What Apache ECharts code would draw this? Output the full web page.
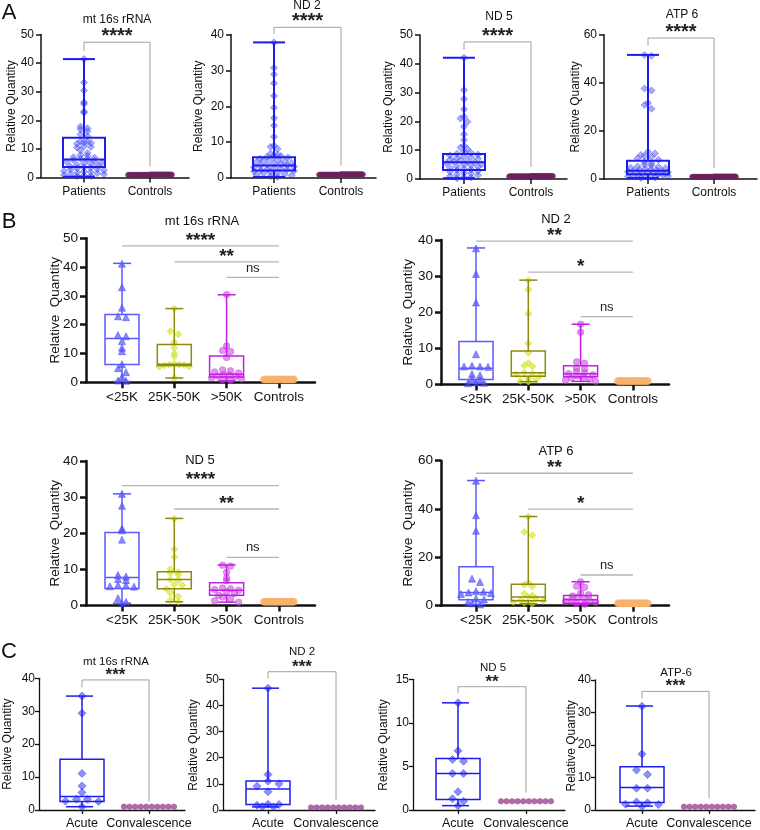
<!DOCTYPE html>
<html lang="en">
<head>
<meta charset="UTF-8">
<title>Relative quantity of mtDNA transcripts</title>
<style>
  html, body { margin: 0; padding: 0; background: #fff; }
  #main { width: 760px; height: 830px; }
</style>
</head>
<body>
<div id="main"></div>
<script src="https://cdn.jsdelivr.net/npm/echarts@6/dist/echarts.min.js"></script>
<script>
// ---------- data ----------
// A: patients vs controls
var catsA = ['Patients', 'Controls'];
var a16sPatients = [41.4, 33.2, 30.4, 26.3, 25.7, 23.1, 22.6, 17.8, 17.2, 16.9, 16.2, 15.1, 14.4, 12.6, 12.5, 12.3, 12.1, 11.8, 10.9, 10.7, 10.5, 9.5, 8.6, 7.9, 7.6, 7.1, 6.9, 6.6, 6.4, 6.1, 5.8, 5.5, 5.2, 5.0, 4.7, 4.4, 4.1, 3.9, 3.6, 3.4, 3.2, 3.0, 2.8, 2.5, 2.3, 2.1, 1.9, 1.7, 1.5, 1.3, 1.1, 0.9, 0.7, 0.5, 0.4];
var aNd2Patients = [37.8, 30.7, 28.9, 26.4, 22.9, 19.6, 16.7, 14.6, 11.5, 9.0, 8.7, 8.1, 6.8, 6.5, 6.3, 6.1, 5.9, 5.7, 5.4, 5.2, 5.0, 4.8, 4.6, 4.4, 4.2, 4.0, 3.9, 3.7, 3.5, 3.4, 3.2, 3.0, 2.9, 2.7, 2.5, 2.4, 2.2, 2.0, 1.9, 1.7, 1.5, 1.3, 1.1, 0.9, 0.7, 0.5, 0.3];
var aNd5Patients = [42.1, 30.9, 27.8, 24.2, 21.6, 21.0, 19.9, 18.2, 15.5, 13.5, 11.6, 10.9, 10.4, 9.4, 9.1, 8.8, 8.5, 8.2, 7.9, 7.6, 7.3, 7.0, 6.8, 6.5, 6.2, 6.0, 5.8, 5.5, 5.2, 5.0, 4.7, 4.4, 4.2, 3.9, 3.6, 3.3, 3.1, 2.8, 2.5, 2.2, 1.9, 1.6, 1.3, 1.0, 0.7, 0.5, 0.3];
var aAtp6Patients = [51.6, 51.2, 37.6, 36.8, 31.6, 30.8, 29.2, 11.3, 10.6, 10.0, 9.6, 9.2, 8.6, 8.0, 7.2, 6.5, 6.0, 5.6, 5.2, 5.0, 4.7, 4.5, 4.3, 4.0, 3.8, 3.6, 3.4, 3.2, 3.0, 2.8, 2.6, 2.4, 2.2, 2.0, 1.8, 1.6, 1.4, 1.2, 1.0, 0.8, 0.6, 0.4];
var aControls = [1.0, 1.1, 0.9, 1.0, 1.0, 1.1, 0.9, 1.0, 1.0, 1.1, 0.9, 1.0, 1.0, 1.1, 0.9, 1.0, 1.0, 1.1, 0.9, 1.0, 1.0, 1.1, 0.9, 1.0, 1.0, 1.1, 0.9, 1.0, 1.0, 1.1, 0.9, 1.0, 1.0, 1.1, 0.9, 1.0, 1.0, 1.1, 0.9, 1.0];
// box stats: [min, Q1, median, Q3, max]
var a16sBox = [0.3, 3.7, 6.3, 13.9, 41.4];
var aNd2Box = [0.3, 2.1, 3.5, 5.8, 37.8];
var aNd5Box = [0.3, 3.1, 5.8, 8.7, 42.1];
var aAtp6Box = [0.4, 2.0, 3.4, 7.6, 51.6];

// B: by platelet count
var catsB = ['<25K', '25K-50K', '>50K', 'Controls'];
var b16sLow = [41.2, 33.0, 25.9, 22.9, 22.6, 16.4, 16.0, 14.3, 12.0, 10.8, 6.3, 4.9, 3.5, 1.9, 0.6, 0.5];
var b16sMid = [25.6, 17.7, 16.7, 13.9, 12.0, 10.0, 9.0, 6.4, 6.2, 6.1, 6.0, 5.8, 5.5, 5.4, 1.5];
var b16sHigh = [30.5, 12.6, 11.0, 10.7, 8.6, 4.3, 4.0, 3.6, 3.2, 2.8, 2.5, 2.2, 2.0, 1.5, 1.2, 1.0, 0.8];
var bNd2Low = [37.7, 30.6, 22.7, 8.4, 5.2, 5.0, 5.0, 4.9, 2.9, 2.6, 1.6, 1.2, 0.6, 0.5, 0.4];
var bNd2Mid = [28.9, 26.3, 19.6, 11.4, 8.8, 6.0, 5.3, 5.1, 3.3, 3.0, 2.8, 2.5, 1.7, 1.5, 1.0, 0.8];
var bNd2High = [16.7, 14.5, 6.3, 5.9, 4.6, 4.4, 3.6, 3.3, 3.0, 2.7, 2.4, 2.1, 1.8, 1.5, 1.2, 0.9];
var bNd5Low = [30.9, 27.6, 21.3, 20.8, 18.2, 8.4, 8.0, 7.3, 7.0, 5.6, 5.5, 5.3, 5.2, 2.0, 1.0, 0.6];
var bNd5Mid = [24.0, 15.5, 13.4, 10.0, 9.2, 9.0, 8.5, 7.2, 7.0, 5.8, 5.6, 4.6, 3.5, 2.5, 1.5, 1.0];
var bNd5High = [11.1, 10.9, 9.2, 7.6, 6.8, 4.8, 4.6, 4.4, 4.2, 3.8, 3.3, 2.8, 2.3, 1.8, 1.3, 0.9];
var bAtp6Low = [51.7, 37.4, 31.0, 11.2, 9.8, 6.0, 5.8, 5.5, 5.2, 4.8, 3.0, 2.6, 1.5, 1.0, 0.5];
var bAtp6Mid = [36.9, 30.5, 29.2, 9.5, 8.7, 8.0, 5.0, 4.2, 3.6, 3.0, 2.5, 2.0, 1.5, 1.2, 0.8];
var bAtp6High = [9.9, 8.0, 7.6, 5.2, 4.5, 4.0, 3.5, 3.0, 2.6, 2.2, 1.8, 1.4, 1.0, 0.6];
var bControls = [1.0, 1.0, 1.0, 1.0, 1.0, 1.0, 1.0, 1.0, 1.0, 1.0, 1.0, 1.0, 1.0, 1.0, 1.0, 1.0, 1.0, 1.0, 1.0, 1.0, 1.0, 1.0];
var b16sBoxes = [[0.3, 6.2, 15.2, 23.5, 41.3], [1.5, 5.8, 6.3, 13.1, 25.6], [0.5, 1.8, 2.8, 9.1, 30.4]];
var bNd2Boxes = [[0.4, 1.4, 4.5, 11.9, 37.8], [0.8, 2.3, 3.3, 9.3, 28.9], [0.9, 2.2, 3.0, 5.2, 16.7]];
var bNd5Boxes = [[0.6, 4.7, 7.7, 20.2, 30.9], [1.0, 4.6, 7.2, 9.3, 24.1], [0.9, 2.8, 4.2, 6.3, 11.2]];
var bAtp6Boxes = [[0.5, 2.5, 5.5, 16.1, 51.8], [0.8, 2.0, 3.6, 8.9, 36.9], [0.6, 1.0, 2.5, 4.2, 9.9]];

// C: acute vs convalescence
var catsC = ['Acute', 'Convalescence'];
var c16sAcute = [34.6, 29.4, 11.1, 7.3, 5.3, 3.3, 3.3, 2.7, 2.6, 1.0];
var cNd2Acute = [46.6, 13.6, 11.0, 10.0, 9.1, 7.0, 2.2, 2.1, 1.8, 1.3, 1.2];
var cNd5Acute = [12.3, 6.8, 5.8, 5.6, 4.2, 4.2, 2.1, 1.3, 1.0, 0.5];
var cAtp6Acute = [31.9, 17.2, 12.3, 10.9, 6.7, 6.7, 2.5, 2.2, 1.8, 1.7, 1.1];
var cConvalescence = [1.0, 1.0, 1.0, 1.0, 1.0, 1.0, 1.0, 1.0, 1.0, 1.0];
var c16sBox = [1.0, 2.6, 4.1, 15.4, 34.6];
var cNd2Box = [1.2, 2.1, 8.0, 11.1, 46.6];
var cNd5Box = [0.5, 1.2, 4.2, 5.9, 12.3];
var cAtp6Box = [1.2, 2.3, 6.9, 13.3, 32.0];

// ---------- styles per section ----------
var FONT = '"Liberation Sans", Arial, sans-serif';
var styleA = {
  axisW: 1.5, tickFont: 12, catFont: 12, labelMargin: 8, yMargin: 7, tickLen: 5,
  titleFont: 12, yNameFont: 12, yName: 'Relative Quantity',
  boxHalf: 21, cap: [-21, 11], boxLine: 2, boxColors: ['#1c1cf0'],
  stepPx: 7, bins: 34, starFont: 20, starGap: 10,
  groups: [
    { symbol: 'diamond', size: 7, color: 'rgba(58,68,255,0.55)', border: 'rgba(30,30,220,0.7)', half: 20 },
    { symbol: 'circle', size: 5, color: '#6c1f60', border: '#6c1f60', half: 22 }
  ]
};
var styleB = {
  axisW: 2.5, tickFont: 13.5, catFont: 13.5, labelMargin: 8, yMargin: 8, tickLen: 6,
  titleFont: 13, yNameFont: 13.5, yName: 'Relative  Quantity',
  boxHalf: 17, cap: [-9, 9], boxLine: 1.5, boxColors: ['#5a5aff', '#8c8c0a', '#c21ee6'],
  stepPx: 8, bins: 24, starFont: 19, starGap: 9.5,
  groups: [
    { symbol: 'triangle', size: 7, color: 'rgba(70,70,255,0.8)', border: 'rgba(50,50,240,0.9)', half: 15 },
    { symbol: 'diamond', size: 7, color: 'rgba(212,230,40,0.85)', border: 'rgba(200,215,30,0.9)', half: 15 },
    { symbol: 'circle', size: 6.5, color: 'rgba(205,80,225,0.75)', border: 'rgba(190,60,215,0.9)', half: 15 },
    { symbol: 'circle', size: 7, color: '#f6b36d', border: '#f6b36d', half: 15 }
  ]
};
var styleC = {
  axisW: 1.3, tickFont: 12, catFont: 12.5, labelMargin: 7, yMargin: 4, tickLen: 4,
  titleFont: 11.5, yNameFont: 12, yName: 'Relative Quantity',
  boxHalf: 22, cap: [-16, 11], boxLine: 1.5, boxColors: ['#1c1cf0'],
  stepPx: 11, bins: 14, starFont: 17, starGap: 8.5,
  groups: [
    { symbol: 'diamond', size: 8, color: 'rgba(60,70,255,0.75)', border: 'rgba(40,40,230,0.9)', half: 18 },
    { symbol: 'circle', size: 5.5, color: '#9c4595', border: '#9c4595', half: 25 }
  ]
};

// ---------- layout of the 12 plots ----------
var panels = [
  { s: styleA, left: 41, top: 34.5, width: 148, height: 143, p0: 84, sp: 66, yMax: 50, yStep: 10, cats: catsA,
    title: 'mt 16s rRNA', tx: 117, ty: 20, yx: 12, groups: [a16sPatients, aControls], boxes: [a16sBox],
    drop: { top: 47.3, l: 44.3, r: 3.9, text: '****' } },
  { s: styleA, left: 231, top: 34.5, width: 145, height: 143.5, p0: 274, sp: 67, yMax: 40, yStep: 10, cats: catsA,
    title: 'ND 2', tx: 307, ty: 5.5, yx: 199, groups: [aNd2Patients, aControls], boxes: [aNd2Box],
    drop: { top: 42.0, l: 40.2, r: 3.4, text: '****' } },
  { s: styleA, left: 420, top: 35, width: 147, height: 144, p0: 464, sp: 67, yMax: 50, yStep: 10, cats: catsA,
    title: 'ND 5', tx: 499, ty: 17, yx: 389, groups: [aNd5Patients, aControls], boxes: [aNd5Box],
    drop: { top: 47.6, l: 44.8, r: 4.2, text: '****' } },
  { s: styleA, left: 604, top: 34.7, width: 153, height: 144.3, p0: 648, sp: 66, yMax: 60, yStep: 20, cats: catsA,
    title: 'ATP 6', tx: 682, ty: 15, yx: 576, groups: [aAtp6Patients, aControls], boxes: [aAtp6Box],
    drop: { top: 58.6, l: 55.3, r: 4.6, text: '****' } },

  { s: styleB, left: 86, top: 238.3, width: 229, height: 144, p0: 122, sp: 52.3, yMax: 50, yStep: 10, cats: catsB,
    title: 'mt 16s rRNA', tx: 202, ty: 221, yx: 55, groups: [b16sLow, b16sMid, b16sHigh, bControls], boxes: b16sBoxes,
    bars: [{ from: 0, y: 47.4, text: '****' }, { from: 1, y: 41.8, text: '**' }, { from: 2, y: 36.4, text: 'ns' }] },
  { s: styleB, left: 441, top: 240, width: 228, height: 144.6, p0: 476, sp: 52.3, yMax: 40, yStep: 10, cats: catsB,
    title: 'ND 2', tx: 556, ty: 219, yx: 408, groups: [bNd2Low, bNd2Mid, bNd2High, bControls], boxes: bNd2Boxes,
    bars: [{ from: 0, y: 39.7, text: '**' }, { from: 1, y: 31.1, text: '*' }, { from: 2, y: 18.8, text: 'ns' }] },
  { s: styleB, left: 86, top: 461, width: 229, height: 144.4, p0: 122, sp: 52.3, yMax: 40, yStep: 10, cats: catsB,
    title: 'ND 5', tx: 200, ty: 460.7, yx: 55, groups: [bNd5Low, bNd5Mid, bNd5High, bControls], boxes: bNd5Boxes,
    bars: [{ from: 0, y: 33.2, text: '****' }, { from: 1, y: 26.7, text: '**' }, { from: 2, y: 13.3, text: 'ns' }] },
  { s: styleB, left: 441, top: 460.7, width: 228, height: 145, p0: 476, sp: 52.3, yMax: 60, yStep: 20, cats: catsB,
    title: 'ATP 6', tx: 556, ty: 451.7, yx: 408, groups: [bAtp6Low, bAtp6Mid, bAtp6High, bControls], boxes: bAtp6Boxes,
    bars: [{ from: 0, y: 54.8, text: '**' }, { from: 1, y: 40.0, text: '*' }, { from: 2, y: 12.7, text: 'ns' }] },

  { s: styleC, left: 39, top: 678.3, width: 146, height: 131.7, p0: 82, sp: 67, yMax: 40, yStep: 10, cats: catsC,
    title: 'mt 16s rRNA', tx: 116, ty: 661.7, yx: 8, groups: [c16sAcute, cConvalescence], boxes: [c16sBox],
    drop: { top: 39.5, l: 37.3, r: 2.5, text: '***' } },
  { s: styleC, left: 223, top: 679.3, width: 152, height: 131.4, p0: 268, sp: 68, yMax: 50, yStep: 10, cats: catsC,
    title: 'ND 2', tx: 302, ty: 651.7, yx: 194, groups: [cNd2Acute, cConvalescence], boxes: [cNd2Box],
    drop: { top: 52.9, l: 50.3, r: 3.8, text: '***' } },
  { s: styleC, left: 413, top: 679.3, width: 152, height: 131.4, p0: 458, sp: 68, yMax: 15, yStep: 5, cats: catsC,
    title: 'ND 5', tx: 493, ty: 667.7, yx: 384, groups: [cNd5Acute, cConvalescence], boxes: [cNd5Box],
    drop: { top: 14.15, l: 13.4, r: 2.0, text: '**' } },
  { s: styleC, left: 595, top: 680, width: 160, height: 131.7, p0: 642, sp: 67, yMax: 40, yStep: 10, cats: catsC,
    title: 'ATP-6', tx: 676, ty: 672.7, yx: 572, groups: [cAtp6Acute, cConvalescence], boxes: [cAtp6Box],
    drop: { top: 36.5, l: 34.3, r: 3.6, text: '***' } }
];

// spread points sideways inside small value bins (centre-out), so overlapping dots stay visible
function swarm(vals, cat, p, half) {
  var bin = p.yMax / p.s.bins;
  var bins = {};
  vals.forEach(function (v) {
    var k = Math.round(v / bin);
    (bins[k] = bins[k] || []).push(v);
  });
  var out = [];
  Object.keys(bins).forEach(function (k) {
    var g = bins[k], n = g.length;
    var step = n > 1 ? Math.min(p.s.stepPx, 2 * half / (n - 1)) : 0;
    var shift = n % 2 === 0 ? -step / 2 : 0;
    g.forEach(function (v, i) {
      var r = i === 0 ? 0 : (i % 2 ? (i + 1) / 2 : -i / 2);
      var off = r * step + shift;
      out.push([cat + off / p.sp, v]);
    });
  });
  return out;
}

function textEl(x, y, str, size, opts) {
  opts = opts || {};
  return {
    type: 'text', x: x, y: y, rotation: opts.rot || 0, silent: true,
    style: {
      text: str, fill: opts.color || '#111', font: (opts.weight || 'normal') + ' ' + size + 'px ' + FONT,
      align: 'center', verticalAlign: 'middle', textAlign: 'center', textVerticalAlign: 'middle'
    }
  };
}

function boxRenderer(p) {
  return function (params, api) {
    var k = api.value(0);
    var c = [1, 2, 3, 4, 5].map(function (d) { return api.coord([k, api.value(d)]); });
    var cx = c[0][0], hw = p.s.boxHalf;
    var st = { stroke: p.s.boxColors[k], lineWidth: p.s.boxLine, fill: 'none' };
    function ln(x1, y1, x2, y2) { return { type: 'line', shape: { x1: x1, y1: y1, x2: x2, y2: y2 }, style: st }; }
    return {
      type: 'group', children: [
        { type: 'rect', shape: { x: cx - hw, y: c[3][1], width: 2 * hw, height: c[1][1] - c[3][1] }, style: st },
        ln(cx - hw, c[2][1], cx + hw, c[2][1]),
        ln(cx, c[3][1], cx, c[4][1]),
        ln(cx, c[1][1], cx, c[0][1]),
        ln(cx + p.s.cap[0], c[4][1], cx + p.s.cap[1], c[4][1]),
        ln(cx + p.s.cap[0], c[0][1], cx + p.s.cap[1], c[0][1])
      ]
    };
  };
}

function starY(y, txt, size) {
  // asterisks sit high in the em box, push them down a little
  return txt.indexOf('*') >= 0 ? y + size * 0.22 : y;
}

function dropRenderer(p) {
  return function (params, api) {
    var d = p.drop;
    var tl = api.coord([0, d.top]), tr = api.coord([1, d.top]);
    var bl = api.coord([0, d.l]), br = api.coord([1, d.r]);
    var cy = tl[1] - p.s.starGap;
    return {
      type: 'group', children: [
        { type: 'polyline', shape: { points: [bl, tl, tr, br] }, style: { stroke: '#a0a0a0', lineWidth: 1, fill: 'none' } },
        textEl((tl[0] + tr[0]) / 2, starY(cy, d.text, p.s.starFont), d.text, p.s.starFont, { weight: 'bold', color: '#222' })
      ]
    };
  };
}

function barsRenderer(p) {
  return function (params, api) {
    var kids = [];
    p.bars.forEach(function (b) {
      var a = api.coord([b.from, b.y]), z = api.coord([p.cats.length - 1, b.y]);
      kids.push({ type: 'line', shape: { x1: a[0], y1: a[1], x2: z[0], y2: z[1] }, style: { stroke: '#b4b4b4', lineWidth: 1.3 } });
      var ns = b.text === 'ns';
      var cy = a[1] - p.s.starGap;
      kids.push(textEl((a[0] + z[0]) / 2, starY(cy, b.text, p.s.starFont), b.text,
        ns ? 13 : p.s.starFont, { weight: ns ? 'normal' : 'bold', color: '#222' }));
    });
    return { type: 'group', children: kids };
  };
}

var grids = [], xAxes = [], yAxes = [], series = [], graphics = [];
panels.forEach(function (p, i) {
  var s = p.s;
  var xmin = -(p.p0 - p.left) / p.sp;
  var idx = p.cats.map(function (c, k) { return k; });
  grids.push({ left: p.left, top: p.top, width: p.width, height: p.height });
  xAxes.push({
    gridIndex: i, type: 'value', min: xmin, max: xmin + p.width / p.sp,
    axisLine: { show: true, onZero: false, lineStyle: { color: '#111', width: s.axisW } },
    axisTick: { show: true, customValues: idx, length: s.tickLen, lineStyle: { color: '#111', width: s.axisW } },
    axisLabel: {
      customValues: idx, margin: s.labelMargin, color: '#111', fontSize: s.catFont, fontFamily: FONT,
      formatter: function (v) { return p.cats[Math.round(v)]; }
    },
    splitLine: { show: false }
  });
  yAxes.push({
    gridIndex: i, type: 'value', min: 0, max: p.yMax, interval: p.yStep,
    axisLine: { show: true, onZero: false, lineStyle: { color: '#111', width: s.axisW } },
    axisTick: { show: true, length: s.tickLen, lineStyle: { color: '#111', width: s.axisW } },
    axisLabel: { margin: s.yMargin, color: '#111', fontSize: s.tickFont, fontFamily: FONT },
    splitLine: { show: false }
  });

  p.groups.forEach(function (vals, k) {
    var g = s.groups[k];
    series.push({
      type: 'scatter', xAxisIndex: i, yAxisIndex: i, z: 2,
      symbol: g.symbol, symbolSize: g.size,
      itemStyle: { color: g.color, borderColor: g.border, borderWidth: 0.6 },
      data: swarm(vals, k, p, g.half)
    });
  });

  series.push({
    type: 'custom', xAxisIndex: i, yAxisIndex: i, z: 3, clip: false,
    renderItem: boxRenderer(p),
    data: p.boxes.map(function (b, k) { return [k].concat(b); })
  });

  series.push({
    type: 'custom', xAxisIndex: i, yAxisIndex: i, z: 4, clip: false,
    renderItem: p.drop ? dropRenderer(p) : barsRenderer(p),
    data: [[0, 0]]
  });

  graphics.push(textEl(p.tx, p.ty, p.title, s.titleFont));
  graphics.push(textEl(p.yx, p.top + p.height / 2, s.yName, s.yNameFont, { rot: Math.PI / 2 }));
});

graphics.push(textEl(9, 13, 'A', 22));
graphics.push(textEl(9, 222, 'B', 22));
graphics.push(textEl(9, 652, 'C', 22));

var myChart = echarts.init(document.getElementById('main'));
myChart.setOption({
  animation: false,
  backgroundColor: '#fff',
  grid: grids,
  xAxis: xAxes,
  yAxis: yAxes,
  series: series,
  graphic: graphics
});
</script>
</body>
</html>
